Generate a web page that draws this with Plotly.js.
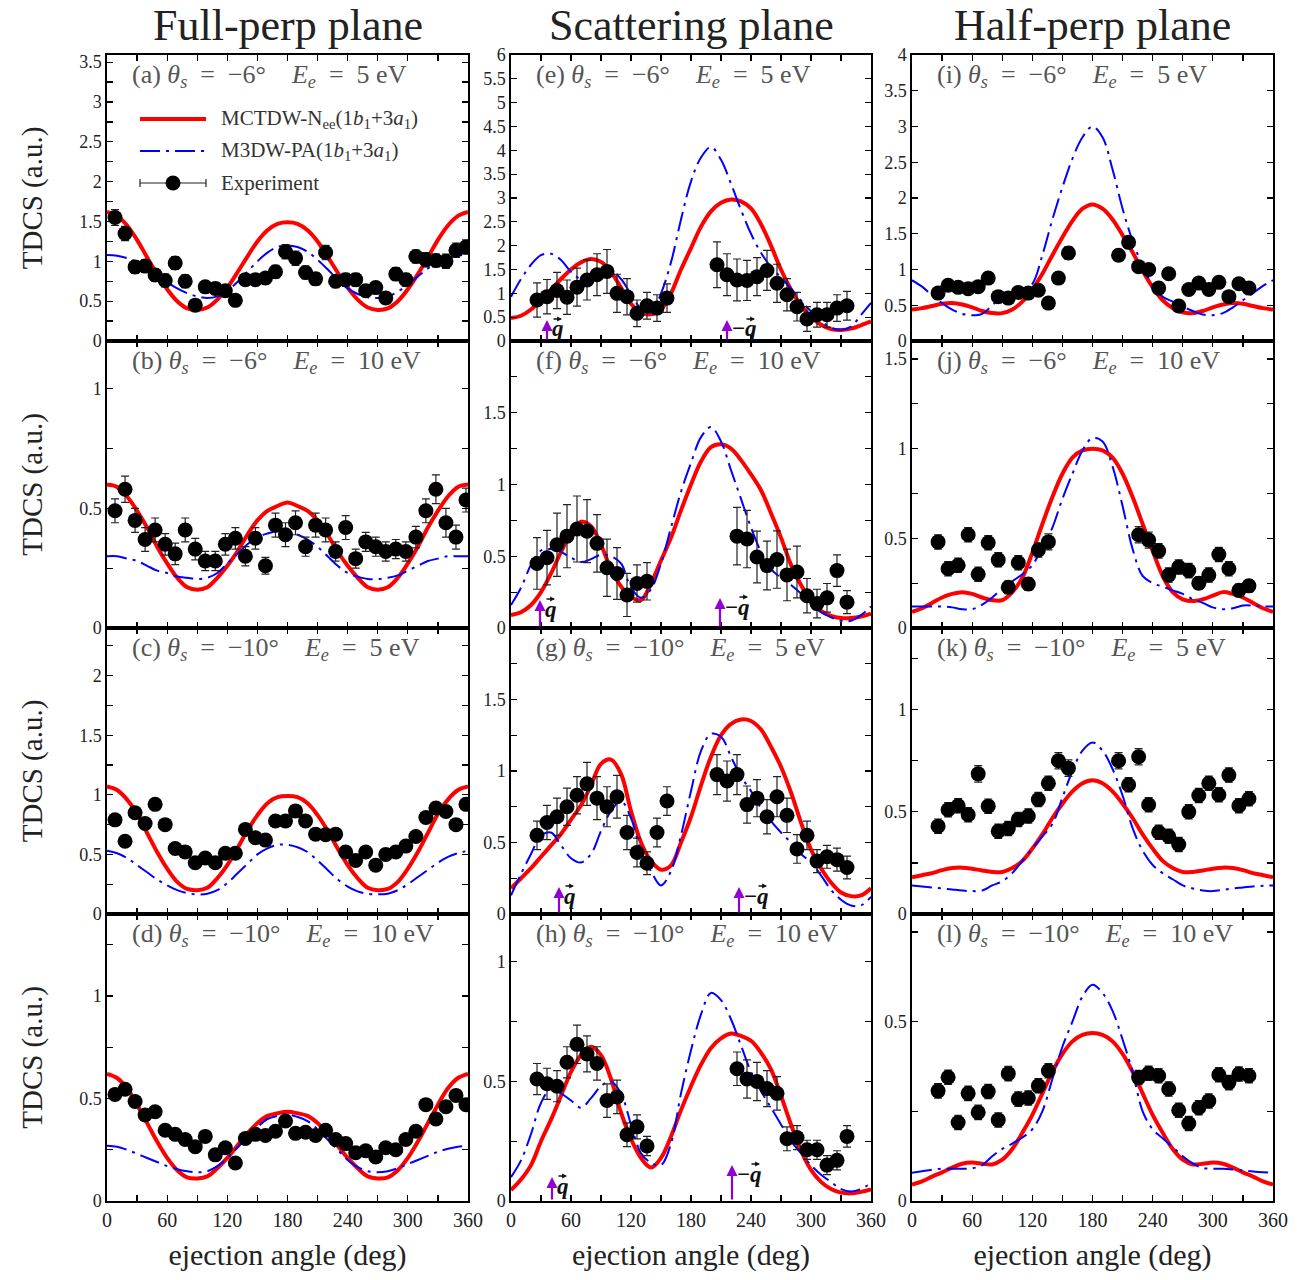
<!DOCTYPE html>
<html><head><meta charset="utf-8">
<script src="https://cdn.plot.ly/plotly-3.0.1.min.js"></script>
<style>html,body{margin:0;padding:0;background:#fff}</style>
</head><body><div id="chart" style="width:1300px;height:1280px"></div>
<script>
// ---------- DATA ----------
const THETA = [0,10,20,30,40,50,60,70,80,90,100,110,120,130,140,150,160,170,180,190,200,210,220,230,240,250,260,270,280,290,300,310,320,330,340,350,360];

const X_FULL = [8,18,28,38,48,58,68,78,88,98,108,118,128,138,148,158,168,178,188,198,208,218,228,238,248,258,268,278,288,298,308,318,328,338,348,358];
const X_28 = [26,36,46,56,66,76,86,96,106,116,126,136,146,156,206,216,226,236,246,256,266,276,286,296,306,316,326,336];
const X_24 = [26,36,46,56,66,76,86,96,106,116,126,136,226,236,246,256,266,276,286,296,306,316,326,336];

const RED_A = [1.62,1.57,1.45,1.27,1.05,0.84,0.65,0.5,0.41,0.39,0.42,0.52,0.67,0.86,1.06,1.25,1.39,1.47,1.49,1.47,1.39,1.25,1.06,0.86,0.67,0.52,0.42,0.39,0.41,0.5,0.65,0.84,1.05,1.27,1.45,1.57,1.62];
const BLUE_A = [1.08,1.07,1.04,0.99,0.92,0.83,0.74,0.66,0.6,0.56,0.54,0.56,0.63,0.74,0.87,1.0,1.11,1.18,1.2,1.18,1.12,1.02,0.9,0.77,0.66,0.59,0.55,0.54,0.56,0.62,0.71,0.81,0.91,0.99,1.04,1.07,1.09];
const EXP_A = [1.55,1.35,0.93,0.94,0.83,0.76,0.98,0.75,0.45,0.68,0.66,0.63,0.51,0.77,0.77,0.79,0.87,1.12,1.04,0.86,0.78,1.11,0.75,0.77,0.77,0.63,0.67,0.54,0.84,0.77,1.06,1.02,1.01,1.0,1.14,1.18];
const ERR_A = [0.1,0.09,0.08,0.08,0.08,0.08,0.08,0.08,0.07,0.07,0.07,0.07,0.07,0.07,0.07,0.07,0.08,0.09,0.09,0.08,0.08,0.09,0.08,0.08,0.08,0.07,0.07,0.07,0.08,0.08,0.08,0.09,0.08,0.09,0.09,0.09];

const RED_B = [0.6,0.59,0.55,0.49,0.42,0.34,0.27,0.21,0.17,0.16,0.17,0.21,0.26,0.32,0.39,0.45,0.49,0.51,0.525,0.51,0.49,0.45,0.39,0.32,0.26,0.21,0.17,0.16,0.17,0.21,0.27,0.34,0.42,0.49,0.55,0.59,0.6];
const BLUE_B = [0.3,0.3,0.29,0.28,0.26,0.24,0.23,0.215,0.21,0.205,0.21,0.23,0.27,0.31,0.35,0.38,0.395,0.405,0.4,0.39,0.37,0.34,0.3,0.26,0.23,0.215,0.205,0.205,0.21,0.22,0.24,0.26,0.28,0.29,0.3,0.3,0.3];
const EXP_B = [0.49,0.58,0.45,0.37,0.41,0.35,0.31,0.41,0.33,0.28,0.28,0.35,0.375,0.3,0.375,0.26,0.43,0.39,0.44,0.34,0.43,0.41,0.32,0.42,0.29,0.36,0.34,0.32,0.33,0.32,0.38,0.49,0.58,0.44,0.38,0.535];
const ERR_B = [0.05,0.055,0.05,0.05,0.05,0.045,0.045,0.05,0.045,0.04,0.04,0.045,0.045,0.04,0.045,0.035,0.05,0.05,0.05,0.04,0.05,0.05,0.04,0.05,0.04,0.04,0.04,0.04,0.04,0.04,0.045,0.05,0.06,0.06,0.05,0.05];

const RED_C = [1.07,1.04,0.96,0.84,0.68,0.52,0.38,0.27,0.21,0.2,0.22,0.3,0.41,0.55,0.7,0.83,0.93,0.98,0.99,0.98,0.93,0.83,0.7,0.55,0.41,0.3,0.22,0.2,0.21,0.27,0.38,0.52,0.68,0.84,0.96,1.04,1.07];
const BLUE_C = [0.53,0.51,0.47,0.41,0.35,0.29,0.24,0.2,0.175,0.165,0.17,0.2,0.26,0.34,0.42,0.5,0.55,0.58,0.58,0.56,0.52,0.45,0.37,0.29,0.23,0.19,0.17,0.165,0.17,0.2,0.25,0.31,0.37,0.43,0.48,0.51,0.53];
const EXP_C = [0.79,0.61,0.85,0.76,0.92,0.75,0.55,0.52,0.43,0.47,0.43,0.51,0.51,0.71,0.64,0.62,0.78,0.78,0.865,0.78,0.67,0.665,0.67,0.52,0.45,0.52,0.41,0.5,0.52,0.57,0.65,0.81,0.89,0.86,0.75,0.92];
const ERR_C = [0.03,0.03,0.03,0.03,0.035,0.03,0.03,0.03,0.03,0.03,0.03,0.03,0.03,0.03,0.03,0.03,0.03,0.03,0.035,0.03,0.03,0.03,0.03,0.03,0.03,0.03,0.03,0.03,0.03,0.03,0.03,0.03,0.035,0.035,0.03,0.035];

const RED_D = [0.62,0.6,0.55,0.47,0.38,0.29,0.21,0.15,0.115,0.11,0.12,0.16,0.21,0.27,0.33,0.38,0.415,0.428,0.435,0.428,0.415,0.38,0.33,0.27,0.21,0.16,0.12,0.11,0.115,0.15,0.21,0.29,0.38,0.47,0.55,0.6,0.62];
const BLUE_D = [0.27,0.265,0.25,0.23,0.21,0.19,0.17,0.155,0.145,0.14,0.145,0.17,0.21,0.26,0.31,0.36,0.4,0.415,0.422,0.41,0.39,0.35,0.3,0.25,0.2,0.165,0.145,0.14,0.145,0.16,0.18,0.2,0.22,0.24,0.255,0.265,0.27];
const EXP_D = [0.52,0.545,0.485,0.42,0.435,0.345,0.325,0.3,0.265,0.315,0.225,0.26,0.185,0.305,0.325,0.32,0.34,0.39,0.33,0.335,0.32,0.345,0.3,0.28,0.235,0.245,0.215,0.26,0.25,0.3,0.34,0.47,0.4,0.46,0.515,0.47];
const ERR_D = [0.015,0.015,0.015,0.015,0.015,0.015,0.015,0.015,0.015,0.015,0.015,0.015,0.015,0.015,0.015,0.015,0.015,0.015,0.015,0.015,0.015,0.015,0.015,0.015,0.015,0.015,0.015,0.015,0.015,0.015,0.015,0.015,0.015,0.015,0.015,0.015];

const RED_E = [0.48,0.53,0.66,0.86,1.08,1.3,1.5,1.65,1.72,1.66,1.45,1.12,0.78,0.6,0.56,0.66,1.0,1.5,1.95,2.4,2.72,2.9,2.97,2.93,2.78,2.45,2.0,1.5,1.08,0.75,0.5,0.34,0.25,0.23,0.26,0.33,0.41];
const BLUE_E = [0.93,1.3,1.6,1.8,1.83,1.7,1.45,1.3,1.33,1.45,1.48,1.3,0.98,0.68,0.6,1.0,1.65,2.55,3.35,3.85,4.07,3.8,3.3,2.75,2.25,1.85,1.55,1.33,1.1,0.85,0.62,0.42,0.28,0.23,0.3,0.55,0.8];
const EXP_E = [0.86,0.93,1.06,0.92,1.13,1.28,1.39,1.46,1.0,0.93,0.58,0.74,0.69,0.9,1.6,1.39,1.28,1.27,1.35,1.48,1.21,0.97,0.72,0.46,0.55,0.55,0.69,0.74];
const ERR_E = [0.36,0.36,0.38,0.36,0.4,0.42,0.44,0.46,0.4,0.38,0.28,0.28,0.28,0.3,0.48,0.44,0.44,0.42,0.4,0.42,0.4,0.34,0.3,0.26,0.26,0.26,0.28,0.3];

const RED_F = [0.09,0.11,0.16,0.25,0.38,0.53,0.66,0.74,0.71,0.58,0.41,0.29,0.215,0.195,0.31,0.47,0.63,0.82,1.0,1.16,1.26,1.28,1.25,1.17,1.07,0.96,0.8,0.63,0.44,0.3,0.19,0.12,0.085,0.07,0.07,0.08,0.1];
const BLUE_F = [0.16,0.28,0.44,0.54,0.55,0.53,0.49,0.46,0.48,0.51,0.5,0.45,0.28,0.21,0.27,0.45,0.7,0.95,1.15,1.33,1.4,1.3,1.1,0.9,0.7,0.53,0.41,0.35,0.3,0.24,0.17,0.11,0.075,0.05,0.05,0.09,0.15];
const EXP_F = [0.45,0.49,0.58,0.64,0.69,0.675,0.59,0.42,0.38,0.23,0.31,0.325,0.64,0.62,0.495,0.435,0.477,0.37,0.39,0.225,0.17,0.21,0.4,0.18];
const ERR_F = [0.18,0.19,0.22,0.22,0.23,0.22,0.2,0.2,0.18,0.15,0.13,0.13,0.2,0.2,0.18,0.17,0.2,0.18,0.18,0.12,0.1,0.1,0.11,0.08];

const RED_G = [0.18,0.25,0.32,0.4,0.48,0.56,0.66,0.76,0.9,1.05,1.08,0.98,0.72,0.5,0.37,0.31,0.34,0.5,0.68,0.9,1.1,1.25,1.33,1.36,1.35,1.29,1.17,1.03,0.85,0.64,0.45,0.32,0.22,0.15,0.125,0.13,0.18];
const BLUE_G = [0.13,0.28,0.42,0.55,0.57,0.48,0.39,0.36,0.42,0.58,0.72,0.79,0.67,0.44,0.3,0.2,0.3,0.55,0.86,1.14,1.26,1.24,1.1,0.96,0.86,0.74,0.65,0.57,0.5,0.42,0.36,0.27,0.17,0.1,0.06,0.06,0.12];
const EXP_G = [0.55,0.64,0.68,0.75,0.83,0.91,0.81,0.75,0.82,0.57,0.43,0.355,0.57,0.79,0.975,0.93,0.975,0.765,0.81,0.68,0.82,0.69,0.455,0.55,0.37,0.4,0.38,0.325];
const ERR_G = [0.1,0.12,0.13,0.13,0.13,0.15,0.15,0.14,0.15,0.12,0.1,0.08,0.1,0.1,0.14,0.14,0.14,0.13,0.13,0.12,0.14,0.12,0.1,0.1,0.08,0.08,0.08,0.08];

const RED_H = [0.046,0.09,0.15,0.25,0.34,0.44,0.54,0.61,0.645,0.61,0.51,0.37,0.26,0.18,0.14,0.18,0.27,0.38,0.48,0.57,0.64,0.68,0.7,0.69,0.67,0.62,0.55,0.44,0.32,0.21,0.13,0.08,0.05,0.035,0.032,0.038,0.048];
const BLUE_H = [0.1,0.17,0.28,0.41,0.47,0.45,0.42,0.39,0.43,0.48,0.5,0.45,0.32,0.2,0.16,0.15,0.24,0.45,0.63,0.78,0.87,0.84,0.76,0.65,0.54,0.46,0.39,0.32,0.25,0.2,0.15,0.11,0.08,0.05,0.04,0.05,0.075];
const EXP_H = [0.51,0.49,0.48,0.58,0.655,0.615,0.575,0.42,0.435,0.277,0.31,0.23,0.553,0.51,0.5,0.47,0.45,0.26,0.265,0.214,0.214,0.15,0.17,0.27];
const ERR_H = [0.065,0.065,0.065,0.065,0.08,0.075,0.07,0.07,0.07,0.05,0.05,0.04,0.07,0.08,0.08,0.075,0.07,0.05,0.05,0.04,0.04,0.04,0.04,0.045];

const RED_I = [0.44,0.46,0.49,0.52,0.53,0.51,0.47,0.42,0.39,0.39,0.44,0.55,0.72,0.94,1.2,1.45,1.68,1.85,1.91,1.85,1.7,1.48,1.24,0.98,0.75,0.57,0.46,0.4,0.39,0.42,0.47,0.51,0.53,0.52,0.49,0.46,0.44];
const BLUE_I = [0.85,0.76,0.64,0.53,0.44,0.38,0.36,0.38,0.5,0.62,0.66,0.7,0.8,1.2,1.7,2.15,2.55,2.85,3.0,2.85,2.4,1.85,1.4,1.05,0.78,0.62,0.55,0.48,0.42,0.37,0.36,0.39,0.47,0.57,0.67,0.77,0.85];
const EXP_I = [0.67,0.78,0.75,0.73,0.76,0.88,0.62,0.6,0.68,0.67,0.71,0.53,0.88,1.23,1.2,1.38,1.04,1.0,0.74,0.94,0.49,0.72,0.81,0.72,0.82,0.62,0.8,0.74];
const ERR_I = [0.06,0.07,0.06,0.06,0.06,0.06,0.05,0.05,0.05,0.05,0.06,0.05,0.07,0.09,0.08,0.08,0.07,0.07,0.06,0.06,0.05,0.06,0.06,0.06,0.06,0.06,0.06,0.06];

const RED_J = [0.09,0.11,0.14,0.17,0.19,0.2,0.19,0.17,0.155,0.155,0.2,0.28,0.42,0.58,0.73,0.86,0.95,0.99,1.0,0.99,0.95,0.86,0.73,0.58,0.43,0.29,0.2,0.16,0.15,0.16,0.18,0.2,0.19,0.17,0.14,0.11,0.09];
const BLUE_J = [0.12,0.12,0.12,0.12,0.115,0.105,0.105,0.13,0.17,0.22,0.26,0.3,0.35,0.45,0.56,0.72,0.86,0.99,1.06,1.04,0.9,0.68,0.44,0.29,0.25,0.23,0.21,0.19,0.16,0.14,0.115,0.105,0.11,0.125,0.125,0.12,0.12];
const EXP_J = [0.48,0.33,0.35,0.52,0.3,0.475,0.38,0.227,0.364,0.245,0.435,0.48,0.52,0.49,0.43,0.295,0.34,0.32,0.25,0.295,0.41,0.33,0.21,0.235];
const ERR_J = [0.04,0.04,0.04,0.04,0.04,0.04,0.04,0.035,0.04,0.035,0.04,0.045,0.045,0.045,0.04,0.04,0.04,0.04,0.035,0.04,0.04,0.04,0.035,0.035];

const RED_K = [0.18,0.19,0.2,0.215,0.225,0.227,0.222,0.213,0.206,0.206,0.225,0.26,0.32,0.39,0.47,0.54,0.6,0.64,0.655,0.64,0.6,0.54,0.47,0.39,0.32,0.26,0.225,0.206,0.206,0.213,0.222,0.227,0.225,0.215,0.2,0.19,0.18];
const BLUE_K = [0.14,0.135,0.13,0.125,0.12,0.115,0.112,0.115,0.14,0.16,0.2,0.26,0.32,0.38,0.44,0.57,0.7,0.8,0.84,0.8,0.71,0.58,0.42,0.31,0.24,0.2,0.17,0.14,0.125,0.115,0.112,0.118,0.125,0.13,0.135,0.138,0.14];
const EXP_K = [0.43,0.51,0.53,0.486,0.686,0.528,0.405,0.418,0.463,0.48,0.56,0.64,0.75,0.714,0.75,0.633,0.77,0.535,0.4,0.38,0.34,0.5,0.58,0.64,0.584,0.68,0.53,0.564];
const ERR_K = [0.035,0.035,0.035,0.035,0.04,0.035,0.035,0.035,0.035,0.035,0.035,0.035,0.04,0.04,0.04,0.035,0.04,0.035,0.035,0.035,0.035,0.035,0.035,0.035,0.035,0.035,0.035,0.035];

const RED_L = [0.046,0.055,0.068,0.08,0.093,0.104,0.107,0.104,0.102,0.115,0.145,0.19,0.24,0.3,0.36,0.41,0.445,0.463,0.468,0.463,0.445,0.41,0.36,0.3,0.24,0.19,0.145,0.115,0.102,0.104,0.107,0.104,0.093,0.08,0.068,0.055,0.046];
const BLUE_L = [0.079,0.083,0.087,0.09,0.09,0.09,0.091,0.1,0.125,0.145,0.16,0.177,0.2,0.25,0.34,0.43,0.5,0.57,0.603,0.58,0.53,0.45,0.36,0.25,0.2,0.175,0.15,0.125,0.105,0.092,0.09,0.09,0.088,0.085,0.082,0.08,0.079];
const EXP_L = [0.307,0.345,0.219,0.3,0.247,0.305,0.226,0.355,0.284,0.287,0.321,0.363,0.344,0.356,0.349,0.312,0.253,0.216,0.26,0.279,0.352,0.33,0.354,0.349];
const ERR_L = [0.02,0.02,0.02,0.02,0.02,0.02,0.02,0.02,0.02,0.02,0.02,0.02,0.02,0.02,0.02,0.02,0.02,0.02,0.02,0.02,0.02,0.02,0.02,0.02];

const PANEL_LETTERS = ['a','b','c','d','e','f','g','h','i','j','k','l'];
const THETA_S = [-6,-6,-10,-10,-6,-6,-10,-10,-6,-6,-10,-10];
const E_EJ = [5,10,5,10,5,10,5,10,5,10,5,10];
const COL_TITLES = ['Full-perp plane','Scattering plane','Half-perp plane'];
const Y_TOP = [3.59,1.2,2.4,1.4, 6,2,2,1.2, 4,1.6,1.4,0.8];
const Y_TICKS = [
  [0,0.5,1,1.5,2,2.5,3,3.5],[0,0.5,1],[0,0.5,1,1.5,2],[0,0.5,1],
  [0,0.5,1,1.5,2,2.5,3,3.5,4,4.5,5,5.5,6],[0,0.5,1,1.5],[0,0.5,1,1.5],[0,0.5,1],
  [0,0.5,1,1.5,2,2.5,3,3.5,4],[0,0.5,1,1.5],[0,0.5,1],[0,0.5]
];
const X_TICKS = [0,60,120,180,240,300,360];
const Q_ANGLE = [36,29,48,41];        // momentum-transfer direction, panels e-h
const MQ_ANGLE = [216,209,228,221];   // -q direction
const SERIES_NAMES = ['MCTDW-N<sub>ee</sub>(1<i>b</i><sub>1</sub>+3<i>a</i><sub>1</sub>)','M3DW-PA(1<i>b</i><sub>1</sub>+3<i>a</i><sub>1</sub>)','Experiment'];

const RED = [RED_A,RED_B,RED_C,RED_D,RED_E,RED_F,RED_G,RED_H,RED_I,RED_J,RED_K,RED_L];
const BLUE = [BLUE_A,BLUE_B,BLUE_C,BLUE_D,BLUE_E,BLUE_F,BLUE_G,BLUE_H,BLUE_I,BLUE_J,BLUE_K,BLUE_L];
const EXP = [EXP_A,EXP_B,EXP_C,EXP_D,EXP_E,EXP_F,EXP_G,EXP_H,EXP_I,EXP_J,EXP_K,EXP_L];
const ERR = [ERR_A,ERR_B,ERR_C,ERR_D,ERR_E,ERR_F,ERR_G,ERR_H,ERR_I,ERR_J,ERR_K,ERR_L];
const EXPX = [X_FULL,X_FULL,X_FULL,X_FULL,X_28,X_24,X_28,X_24,X_28,X_24,X_28,X_24];

// ---------- LAYOUT GEOMETRY ----------
const W = 1300, H = 1280;
const COLX = [[107,468],[511,871],[912,1273]];
const ROWY = [[55,341],[341,628],[628,914],[914,1201]];
const FONT = 'Liberation Serif';
const px = x => x / W, py = y => 1 - y / H;

const traces = [];
const layout = {
  width: W, height: H, margin: {l:0,r:0,t:0,b:0},
  paper_bgcolor: '#fff', plot_bgcolor: '#fff', showlegend: false,
  font: {family: FONT, color: '#222'},
  annotations: [], shapes: []
};

for (let p = 0; p < 12; p++) {
  const c = Math.floor(p / 4), r = p % 4;
  const n = p === 0 ? '' : String(p + 1);
  const xa = 'x' + n, ya = 'y' + n;
  traces.push({x: THETA, y: RED[p], xaxis: xa, yaxis: ya, mode: 'lines', name: 'MCTDW-Nee(1b1+3a1)',
    line: {color: '#ff0000', width: 4, shape: 'spline', smoothing: 1}, hoverinfo: 'skip'});
  traces.push({x: THETA, y: BLUE[p], xaxis: xa, yaxis: ya, mode: 'lines', name: 'M3DW-PA(1b1+3a1)',
    line: {color: '#0000ff', width: 2, dash: '20px,6px,3px,6px', shape: 'spline', smoothing: 1}, hoverinfo: 'skip'});
  traces.push({x: EXPX[p], y: EXP[p], xaxis: xa, yaxis: ya, mode: 'markers', name: 'Experiment',
    marker: {size: 15, color: '#000'},
    error_y: {type: 'data', array: ERR[p], visible: true, color: '#222', thickness: 1.2, width: 4}});

  const noMinor = (p === 4 || p === 8);
  layout['xaxis' + n] = {
    domain: [px(COLX[c][0]), px(COLX[c][1])], anchor: ya, range: [0, 360],
    tickmode: 'array', tickvals: X_TICKS, ticks: 'inside', ticklen: 6, tickwidth: 1.2, tickcolor: '#000',
    minor: {tickmode: 'linear', tick0: 0, dtick: 30, ticks: 'inside', ticklen: 6, tickwidth: 1.2, tickcolor: '#000'},
    mirror: 'allticks', showline: true, linecolor: '#000', linewidth: 1.6,
    showgrid: false, zeroline: false, showticklabels: r === 3,
    tickfont: {family: FONT, size: 20, color: '#222'}
  };
  if (r === 3) layout['xaxis' + n].title = {text: 'ejection angle (deg)', font: {family: FONT, size: 30, color: '#222'}, standoff: 14};
  layout['yaxis' + n] = {
    domain: [py(ROWY[r][1]), py(ROWY[r][0])], anchor: xa, range: [0, Y_TOP[p]],
    tickmode: 'array', tickvals: Y_TICKS[p], ticks: 'inside', ticklen: 6, tickwidth: 1.2, tickcolor: '#000',
    minor: noMinor ? {ticks: ''} : {tickmode: 'linear', tick0: 0, dtick: 0.25, ticks: 'inside', ticklen: 6, tickwidth: 1.2, tickcolor: '#000'},
    mirror: 'allticks', showline: true, linecolor: '#000', linewidth: 1.6,
    showgrid: false, zeroline: false,
    tickfont: {family: FONT, size: 18, color: '#222'}
  };
  if (c === 0) layout['yaxis' + n].title = {text: 'TDCS (a.u.)', font: {family: FONT, size: 29, color: '#222'}, standoff: 28};

  // panel label
  const ts = THETA_S[p];
  const tsTxt = (ts < 0 ? '−' : '') + Math.abs(ts);
  layout.annotations.push({
    xref: 'paper', yref: 'paper', x: px(COLX[c][0] + 23), y: py(ROWY[r][0] + 21),
    xanchor: 'left', yanchor: 'middle', showarrow: false,
    text: '(' + PANEL_LETTERS[p] + ') <i>θ<sub>s</sub></i>\u2002=\u2002' + tsTxt + '°\u2003<i>E<sub>e</sub></i>\u2002=\u2002' + E_EJ[p] + ' eV',
    font: {family: FONT, size: 26, color: '#555'}
  });
}

// column titles
COL_TITLES.forEach((t, c) => {
  layout.annotations.push({xref: 'paper', yref: 'paper', x: px((COLX[c][0] + COLX[c][1]) / 2), y: py(26),
    xanchor: 'center', yanchor: 'middle', showarrow: false, text: t,
    font: {family: FONT, size: 44, color: '#222'}});
});

// q and -q arrows in scattering plane panels
const QLEN = [21, 28, 27, 24], MQLEN = [21, 30, 27, 36];
for (let k = 0; k < 4; k++) {
  const n = String(5 + k);
  const h = ROWY[k][1] - ROWY[k][0];
  [[Q_ANGLE[k], QLEN[k], '<b><i>q</i></b>', 15], [MQ_ANGLE[k], MQLEN[k], '<b>−<i>q</i></b>', 28]].forEach(([ang, len, lab, vecHead]) => {
    // purple direction arrow
    layout.annotations.push({xref: 'x' + n, yref: 'y' + n + ' domain', x: ang, y: len / h,
      ax: 0, ay: len, showarrow: true, arrowhead: 2, arrowsize: 1, arrowwidth: 2.2, arrowcolor: '#9400D3', text: '', standoff: 0});
    // label
    layout.annotations.push({xref: 'x' + n, yref: 'y' + n + ' domain', x: ang, y: (len - 9) / h, xshift: 3,
      xanchor: 'left', yanchor: 'middle', showarrow: false, text: lab,
      font: {family: FONT, size: 23, color: '#111'}});
    // small vector accent over q
    layout.annotations.push({xref: 'x' + n, yref: 'y' + n + ' domain', x: ang, y: (len - 9) / h, xshift: vecHead, yshift: 10,
      showarrow: true, ax: -10, ay: 0, arrowhead: 2, arrowsize: 0.7, arrowwidth: 1.4, arrowcolor: '#111', text: '', standoff: 0});
  });
}

// legend inside panel (a)
const LX0 = 140, LX1 = 206, LTX = 219, LY = [119, 151, 183];
layout.shapes.push({type: 'line', xref: 'paper', yref: 'paper', x0: px(LX0), x1: px(LX1), y0: py(LY[0]), y1: py(LY[0]), line: {color: '#ff0000', width: 4}});
layout.shapes.push({type: 'line', xref: 'paper', yref: 'paper', x0: px(LX0), x1: px(LX1), y0: py(LY[1]), y1: py(LY[1]), line: {color: '#0000ff', width: 2, dash: '20px,6px,3px,6px'}});
layout.shapes.push({type: 'line', xref: 'paper', yref: 'paper', x0: px(LX0), x1: px(LX1), y0: py(LY[2]), y1: py(LY[2]), line: {color: '#222', width: 1.2}});
[LX0, LX1].forEach(x => layout.shapes.push({type: 'line', xref: 'paper', yref: 'paper', x0: px(x), x1: px(x), y0: py(LY[2] - 4), y1: py(LY[2] + 4), line: {color: '#222', width: 1.2}}));
layout.shapes.push({type: 'circle', xref: 'paper', yref: 'paper', x0: px(173 - 7.5), x1: px(173 + 7.5), y0: py(LY[2] + 7.5), y1: py(LY[2] - 7.5), fillcolor: '#000', line: {color: '#000', width: 0}});
SERIES_NAMES.forEach((t, i) => layout.annotations.push({xref: 'paper', yref: 'paper', x: px(LTX), y: py(LY[i]),
  xanchor: 'left', yanchor: 'middle', showarrow: false, text: t, font: {family: FONT, size: 21, color: '#333'}}));

Plotly.newPlot('chart', traces, layout, {staticPlot: true, displayModeBar: false});
</script></body></html>
